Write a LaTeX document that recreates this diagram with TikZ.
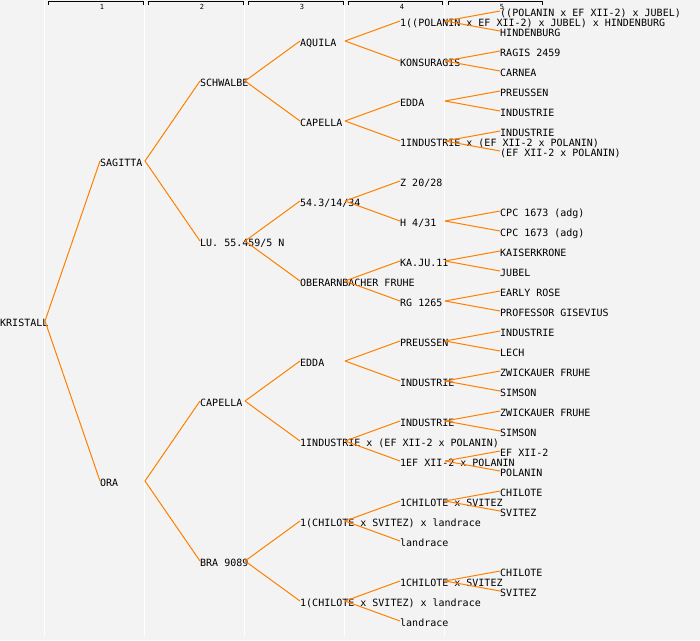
\documentclass[tikz,border=0pt]{standalone}
\usepackage{fontspec}
\setmonofont{DejaVu Sans Mono}
\definecolor{bgcol}{RGB}{243,243,243}
\definecolor{linecol}{RGB}{255,128,0}

\begin{document}
\begin{tikzpicture}[x=1pt,y=-1pt,
    variety/.style={anchor=west,inner sep=0pt,font=\ttfamily\fontsize{10}{10}\selectfont,
                    text height=10pt,text depth=0pt},
    cross/.style={draw=linecol,line width=1pt},
    gen/.style={inner sep=0pt,font=\ttfamily\fontsize{7}{7}\selectfont},
    bracket/.style={draw=black,line width=0.8pt},
    colrule/.style={draw=white,line width=1pt}]
        % page and column rules
        \fill[bgcol] (0,0) rectangle (700,640);
        \useasboundingbox (0,0) rectangle (700,640);
        \draw[colrule] (44.5,0) -- (44.5,637);
        \draw[colrule] (144.5,0) -- (144.5,637);
        \draw[colrule] (244.5,0) -- (244.5,637);
        \draw[colrule] (344.5,0) -- (344.5,637);
        \draw[colrule] (444.5,0) -- (444.5,637);
        % generation header
        \draw[bracket] (48,4.5) -- (48,1.5) -- (143,1.5) -- (143,4.5);
        \draw[bracket] (148,4.5) -- (148,1.5) -- (243,1.5) -- (243,4.5);
        \draw[bracket] (248,4.5) -- (248,1.5) -- (343,1.5) -- (343,4.5);
        \draw[bracket] (348,4.5) -- (348,1.5) -- (442,1.5) -- (442,4.5);
        \draw[bracket] (448,4.5) -- (448,1.5) -- (542,1.5) -- (542,4.5);
        \node[gen] (h_1) at (102,6.5) {1};
        \node[gen] (h_2) at (202,6.5) {2};
        \node[gen] (h_3) at (302,6.5) {3};
        \node[gen] (h_4) at (402,6.5) {4};
        \node[gen] (h_5) at (502,6.5) {5};
        % generation 0
        \node[variety] (n_1) at (0,321) {KRISTALL};
        % generation 1
        \node[variety] (n_2) at (100,161) {SAGITTA};
        \node[variety] (n_3) at (100,481) {ORA};
        % generation 2
        \node[variety] (n_4) at (200,81)  {SCHWALBE};
        \node[variety] (n_5) at (200,241) {LU. 55.459/5 N};
        \node[variety] (n_6) at (200,401) {CAPELLA};
        \node[variety] (n_7) at (200,561) {BRA 9089};
        % generation 3
        \node[variety] (n_8)  at (300,41)  {AQUILA};
        \node[variety] (n_9)  at (300,121) {CAPELLA};
        \node[variety] (n_10) at (300,201) {54.3/14/34};
        \node[variety] (n_11) at (300,281) {OBERARNBACHER FRUHE};
        \node[variety] (n_12) at (300,361) {EDDA};
        \node[variety] (n_13) at (300,441) {1INDUSTRIE x (EF XII-2 x POLANIN)};
        \node[variety] (n_14) at (300,521) {1(CHILOTE x SVITEZ) x landrace};
        \node[variety] (n_15) at (300,601) {1(CHILOTE x SVITEZ) x landrace};
        % generation 4
        \node[variety] (n_16) at (400,21)  {1((POLANIN x EF XII-2) x JUBEL) x HINDENBURG};
        \node[variety] (n_17) at (400,61)  {KONSURAGIS};
        \node[variety] (n_18) at (400,101) {EDDA};
        \node[variety] (n_19) at (400,141) {1INDUSTRIE x (EF XII-2 x POLANIN)};
        \node[variety] (n_20) at (400,181) {Z 20/28};
        \node[variety] (n_21) at (400,221) {H 4/31};
        \node[variety] (n_22) at (400,261) {KA.JU.11};
        \node[variety] (n_23) at (400,301) {RG 1265};
        \node[variety] (n_24) at (400,341) {PREUSSEN};
        \node[variety] (n_25) at (400,381) {INDUSTRIE};
        \node[variety] (n_26) at (400,421) {INDUSTRIE};
        \node[variety] (n_27) at (400,461) {1EF XII-2 x POLANIN};
        \node[variety] (n_28) at (400,501) {1CHILOTE x SVITEZ};
        \node[variety] (n_29) at (400,541) {landrace};
        \node[variety] (n_30) at (400,581) {1CHILOTE x SVITEZ};
        \node[variety] (n_31) at (400,621) {landrace};
        % generation 5
        \node[variety] (n_32) at (500,11)  {((POLANIN x EF XII-2) x JUBEL)};
        \node[variety] (n_33) at (500,31)  {HINDENBURG};
        \node[variety] (n_34) at (500,51)  {RAGIS 2459};
        \node[variety] (n_35) at (500,71)  {CARNEA};
        \node[variety] (n_36) at (500,91)  {PREUSSEN};
        \node[variety] (n_37) at (500,111) {INDUSTRIE};
        \node[variety] (n_38) at (500,131) {INDUSTRIE};
        \node[variety] (n_39) at (500,151) {(EF XII-2 x POLANIN)};
        \node[variety] (n_42) at (500,211) {CPC 1673 (adg)};
        \node[variety] (n_43) at (500,231) {CPC 1673 (adg)};
        \node[variety] (n_44) at (500,251) {KAISERKRONE};
        \node[variety] (n_45) at (500,271) {JUBEL};
        \node[variety] (n_46) at (500,291) {EARLY ROSE};
        \node[variety] (n_47) at (500,311) {PROFESSOR GISEVIUS};
        \node[variety] (n_48) at (500,331) {INDUSTRIE};
        \node[variety] (n_49) at (500,351) {LECH};
        \node[variety] (n_50) at (500,371) {ZWICKAUER FRUHE};
        \node[variety] (n_51) at (500,391) {SIMSON};
        \node[variety] (n_52) at (500,411) {ZWICKAUER FRUHE};
        \node[variety] (n_53) at (500,431) {SIMSON};
        \node[variety] (n_54) at (500,451) {EF XII-2};
        \node[variety] (n_55) at (500,471) {POLANIN};
        \node[variety] (n_56) at (500,491) {CHILOTE};
        \node[variety] (n_57) at (500,511) {SVITEZ};
        \node[variety] (n_60) at (500,571) {CHILOTE};
        \node[variety] (n_61) at (500,591) {SVITEZ};
         \path[cross]
         ([xshift=45]n_1.west)  edge (n_2.west)  edge (n_3.west)
         ([xshift=45]n_2.west)  edge (n_4.west)  edge (n_5.west)
         ([xshift=45]n_3.west)  edge (n_6.west)  edge (n_7.west)
         ([xshift=45]n_4.west)  edge (n_8.west)  edge (n_9.west)
         ([xshift=45]n_5.west)  edge (n_10.west) edge (n_11.west)
         ([xshift=45]n_6.west)  edge (n_12.west) edge (n_13.west)
         ([xshift=45]n_7.west)  edge (n_14.west) edge (n_15.west)
         ([xshift=45]n_8.west)  edge (n_16.west) edge (n_17.west)
         ([xshift=45]n_9.west)  edge (n_18.west) edge (n_19.west)
         ([xshift=45]n_10.west) edge (n_20.west) edge (n_21.west)
         ([xshift=45]n_11.west) edge (n_22.west) edge (n_23.west)
         ([xshift=45]n_12.west) edge (n_24.west) edge (n_25.west)
         ([xshift=45]n_13.west) edge (n_26.west) edge (n_27.west)
         ([xshift=45]n_14.west) edge (n_28.west) edge (n_29.west)
         ([xshift=45]n_15.west) edge (n_30.west) edge (n_31.west)
         ([xshift=45]n_16.west) edge (n_32.west) edge (n_33.west)
         ([xshift=45]n_17.west) edge (n_34.west) edge (n_35.west)
         ([xshift=45]n_18.west) edge (n_36.west) edge (n_37.west)
         ([xshift=45]n_19.west) edge (n_38.west) edge (n_39.west)
         ([xshift=45]n_21.west) edge (n_42.west) edge (n_43.west)
         ([xshift=45]n_22.west) edge (n_44.west) edge (n_45.west)
         ([xshift=45]n_23.west) edge (n_46.west) edge (n_47.west)
         ([xshift=45]n_24.west) edge (n_48.west) edge (n_49.west)
         ([xshift=45]n_25.west) edge (n_50.west) edge (n_51.west)
         ([xshift=45]n_26.west) edge (n_52.west) edge (n_53.west)
         ([xshift=45]n_27.west) edge (n_54.west) edge (n_55.west)
         ([xshift=45]n_28.west) edge (n_56.west) edge (n_57.west)
         ([xshift=45]n_30.west) edge (n_60.west) edge (n_61.west);
     \end{tikzpicture}
\end{document}
